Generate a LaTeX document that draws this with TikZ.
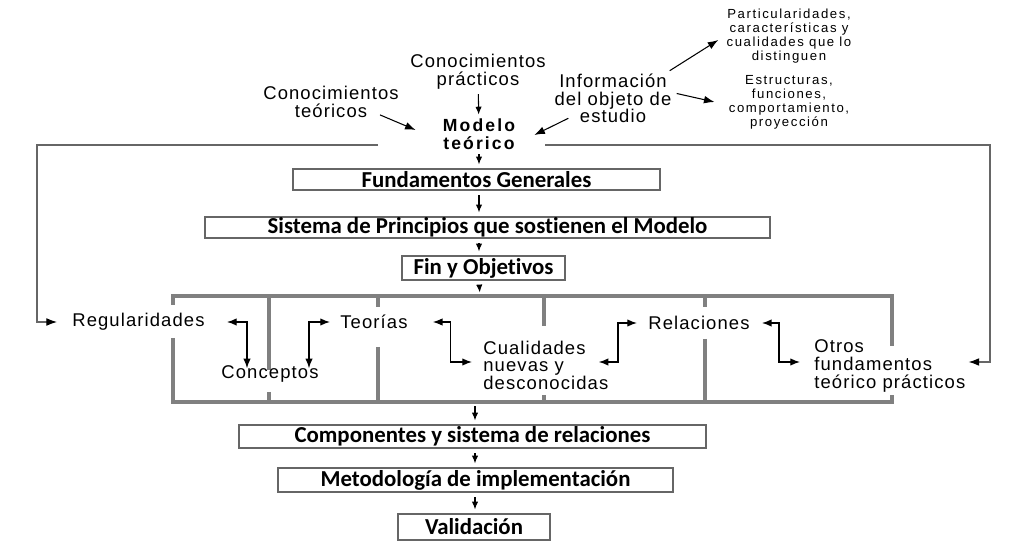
\documentclass[tikz,border=0pt]{standalone}
\usepackage{fontspec}
\setmainfont{Liberation Sans}
\newfontfamily\textofont[LetterSpace=6]{Liberation Sans}
\newfontfamily\notafont[LetterSpace=12]{Liberation Sans}
\newfontfamily\cajafont[Ligatures=NoCommon]{Carlito}
\usetikzlibrary{arrows.meta}

\tikzset{
  caja/.style={draw=black!60, line width=1.1pt, inner sep=0pt,
    font=\cajafont\bfseries\fontsize{13}{15}\selectfont},
  texto/.style={inner sep=0pt, align=center,
    font=\textofont\fontsize{10.5}{10}\selectfont},
  nota/.style={inner sep=0pt, align=center,
    font=\notafont\fontsize{7.5}{8}\selectfont},
  flecha/.style={-{Latex[length=6pt,width=4.4pt,color=black]}, line width=0.6pt},
  columna/.style={-{Latex[length=4.5pt,width=3.6pt]}, line width=0.6pt, shorten <=2.5pt, shorten >=2pt},
  doble/.style={{Latex[length=5.5pt,width=4.2pt]}-{Latex[length=5.5pt,width=4.2pt]}, line width=0.7pt},
  retro/.style={draw=black!60, line width=0.9pt},
  llave/.style={draw=black!50, line width=2pt}
}

\begin{document}
\begin{tikzpicture}[x=0.02cm, y=-0.02cm]
    \path[fill=white] (0,0) rectangle (1011,550);
    \useasboundingbox (0,0) rectangle (1011,550);

    % entradas del modelo
    \node[texto] (cprac) at (478,72) {Conocimientos\\prácticos};
    \node[texto] (cteo) at (331,102) {Conocimientos\\teóricos};
    \node[texto] (info) at (613,98.5) {Información\\del objeto de\\estudio};
    \node[texto, font=\notafont\bfseries\fontsize{10}{10.3}\selectfont] (modelo) at (479,134) {Modelo\\teórico};
    \node[nota] (partic) at (789,36) {Particularidades,\\características y\\cualidades que lo\\distinguen};
    \node[nota] (estruc) at (789,102) {Estructuras,\\funciones,\\comportamiento,\\proyección};

    \draw[columna] (cprac) -- (modelo);
    \draw[flecha] ([shift={(-19,-3)}]cteo.south east) -- ([shift={(-27,-4)}]modelo.west);
    \draw[flecha] ([shift={(14,-5)}]info.south west) -- ([shift={(19,1)}]modelo.east);
    \draw[flecha] ([shift={(-2,-3)}]info.north east) -- ([shift={(-8,4)}]partic.west);
    \draw[flecha] ([shift={(5,-5)}]info.east) -- ([shift={(-14,0)}]estruc.west);

    % cajas centrales
    \node[caja, minimum width=7.34cm, minimum height=0.42cm] (fund) at (476.5,179.5) {Fundamentos Generales};
    \node[caja, minimum width=11.3cm, minimum height=0.42cm] (sist) at (487.5,227.5) {Sistema de Principios que sostienen el Modelo};
    \node[caja, minimum width=3.26cm, minimum height=0.48cm] (fin) at (483.5,268) {Fin y Objetivos};
    \node[caja, minimum width=9.34cm, minimum height=0.46cm] (comp) at (472.5,436.5) {Componentes y sistema de relaciones};
    \node[caja, minimum width=7.9cm, minimum height=0.48cm] (metod) at (475.5,480) {Metodología de implementación};
    \node[caja, minimum width=3.04cm, minimum height=0.52cm] (valid) at (474,527) {Validación};

    \coordinate (llaveArriba) at (480,296);
    \coordinate (llaveAbajo) at (475,402);

    \draw[columna] (modelo.south) -- (modelo.south |- fund.north);
    \draw[columna] (fund.south -| modelo) -- (sist.north -| modelo);
    \draw[columna] (sist.south -| modelo) -- (fin.north -| modelo);
    \draw[columna] (fin.south -| modelo) -- (llaveArriba);
    \draw[columna] (llaveAbajo) -- (comp.north -| llaveAbajo);
    \draw[columna] (comp.south -| llaveAbajo) -- (metod.north -| llaveAbajo);
    \draw[columna] (metod.south -| llaveAbajo) -- (valid.north -| llaveAbajo);

    % marco de fundamentos
    \draw[llave] (173,305) -- (173,296) -- (892,296) -- (892,346);
    \draw[llave] (173,338) -- (173,402) -- (892,402) -- (892,395);
    \draw[llave] (269,296) -- (269,370);
    \draw[llave] (269,392) -- (269,402);
    \draw[llave] (378,296) -- (378,307);
    \draw[llave] (378,347) -- (378,402);
    \draw[llave] (544,296) -- (544,326);
    \draw[llave] (544,395) -- (544,402);
    \draw[llave] (705,296) -- (705,307);
    \draw[llave] (705,339) -- (705,402);

    % contenidos
    \node[texto, anchor=west] (regul) at (72,322) {Regularidades};
    \node[texto] (concep) at (270,374) {Conceptos};
    \node[texto, anchor=west] (teor) at (340,322) {Teorías};
    \node[texto, anchor=west, align=left] (cualid) at (483,365) {Cualidades\\nuevas y\\desconocidas};
    \node[texto, anchor=west] (relac) at (648,323) {Relaciones};
    \node[texto, anchor=west, align=left] (otros) at (814,366) {Otros\\fundamentos\\teórico prácticos};

    \draw[doble] ([shift={(22,0)}]regul.east) -| ([shift={(-23,3)}]concep.north);
    \draw[doble] ([shift={(-10,0)}]teor.west) -| ([shift={(39,3)}]concep.north);
    \draw[doble] ([shift={(25,0)}]teor.east) -- ++(18,0) |- ([shift={(-11,-3)}]cualid.west);
    \draw[doble] ([shift={(-11,0)}]relac.west) -- ++(-19,0) |- ([shift={(-10,-3)}]cualid.east);
    \draw[doble] ([shift={(12,0)}]relac.east) -- ++(17,0) |- ([shift={(-14,-4)}]otros.west);

    % retroalimentacion
    \coordinate (retroL) at (378,145);
    \coordinate (esqL) at (37,145);
    \coordinate (retroR) at (545,145);
    \coordinate (esqR) at (990,145);
    \draw[retro, flecha] (retroL) -- (esqL) |- ([shift={(-15,0)}]regul.west);
    \draw[retro, flecha] (retroR) -- (esqR) |- ([shift={(3,-4)}]otros.east);
\end{tikzpicture}
\end{document}
